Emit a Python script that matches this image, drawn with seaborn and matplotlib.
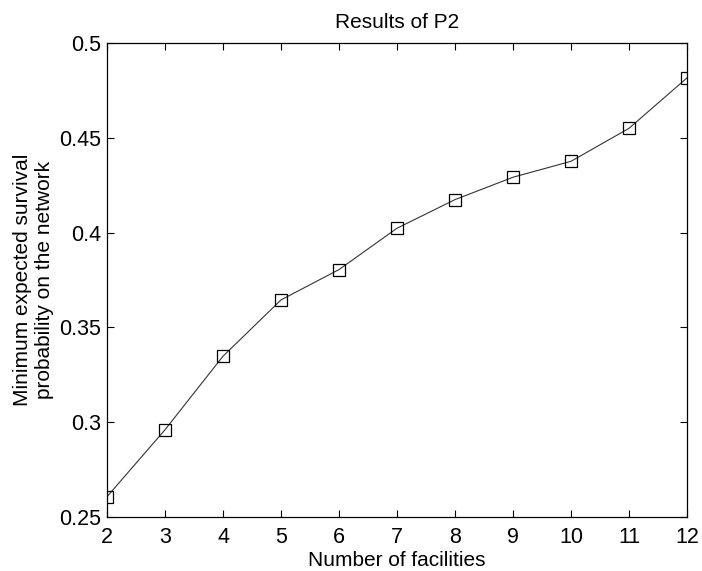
import seaborn as sns
import matplotlib.pyplot as plt
import pandas as pd

facilities = [2, 3, 4, 5, 6, 7, 8, 9, 10, 11, 12]
survival = [0.2607, 0.2960, 0.3348, 0.3645, 0.3805, 0.4023,
            0.4174, 0.4292, 0.4376, 0.4550, 0.4816]
y_ticks = [0.25, 0.3, 0.35, 0.4, 0.45, 0.5]
y_tick_labels = ["0.25", "0.3", "0.35", "0.4", "0.45", "0.5"]

df = pd.DataFrame({"facilities": facilities, "survival": survival})

sns.set_style("ticks")
plt.rcParams["font.family"] = ["Liberation Sans", "DejaVu Sans"]
plt.rcParams["text.color"] = "black"
plt.rcParams["axes.labelcolor"] = "black"

fig = plt.figure(figsize=(7.02, 5.71), dpi=100)
ax = fig.add_axes([107 / 702, 1 - 517 / 571, 580 / 702, 474 / 571])

sns.lineplot(data=df, x="facilities", y="survival", ax=ax,
             color="#333333", linewidth=0.8, marker="s", markersize=8,
             markerfacecolor="none", markeredgecolor="black",
             markeredgewidth=0.9)

ax.set_xlim(2, 12)
ax.set_ylim(0.25, 0.5)
ax.set_xticks(facilities)
ax.set_yticks(y_ticks)
ax.set_yticklabels(y_tick_labels)
ax.tick_params(direction="in", top=True, right=True, length=5, width=0.8,
               labelsize=15.5, colors="black")
ax.tick_params(axis="x", pad=7)
ax.tick_params(axis="y", pad=4)
for side in ax.spines.values():
    side.set_linewidth(0.9)
    side.set_color("black")

ax.set_title("Results of P2", fontsize=15, pad=11, color="black")
ax.set_xlabel("Number of facilities", fontsize=15, labelpad=2)
ax.set_ylabel("Minimum expected survival\nprobability on the network",
              fontsize=15, labelpad=4)

fig.savefig("out.png", dpi=100)
